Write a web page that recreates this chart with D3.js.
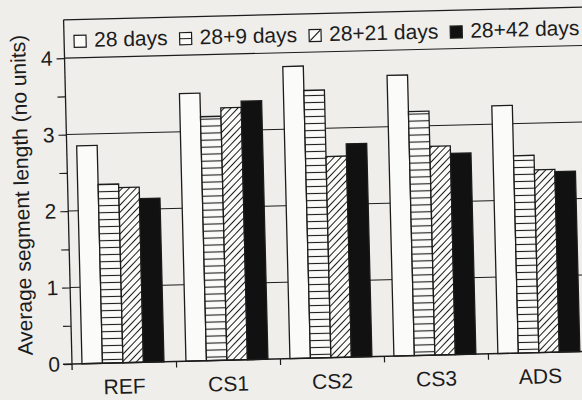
<!DOCTYPE html>
<html>
<head>
<meta charset="utf-8">
<script src="https://cdn.jsdelivr.net/npm/d3@7"></script>
<style>
  body { margin: 0; background: #efeeeb; }
  text { font-family: "Liberation Sans", Arial, Helvetica, sans-serif; fill: #1c1c1c; }
</style>
</head>
<body>
<script>
const W = 582;
const H = 400;

const categories = ['REF', 'CS1', 'CS2', 'CS3', 'ADS'];
const series = ['28 days', '28+9 days', '28+21 days', '28+42 days'];
// values
const days28 = [2.85, 3.50, 3.82, 3.67, 3.24];
const days28p9 = [2.34, 3.19, 3.50, 3.19, 2.58];
const days28p21 = [2.29, 3.30, 2.63, 2.73, 2.39];
const days28p42 = [2.14, 3.38, 2.79, 2.63, 2.36];
const yTicks = [0, 0.5, 1, 1.5, 2, 2.5, 3, 3.5, 4];
const gridValues = [1, 2, 3, 4];

const values = [days28, days28p9, days28p21, days28p42];
const fills = ['#fbfbf9', 'url(#hlines)', 'url(#hatch)', '#111'];

const ink = '#1c1c1c';
const x0 = 72, x1 = 610;   // plot runs off the right edge of the scan

const svg = d3.select('body').append('svg')
    .attr('width', W)
    .attr('height', H);

svg.append('rect').attr('width', W).attr('height', H).attr('fill', '#efeeeb');

const defs = svg.append('defs');
const hl = defs.append('pattern')
    .attr('id', 'hlines')
    .attr('patternUnits', 'userSpaceOnUse')
    .attr('width', 10).attr('height', 7);
hl.append('rect').attr('width', 10).attr('height', 7).attr('fill', '#fbfbf9');
hl.append('line').attr('x1', 0).attr('x2', 10).attr('y1', 3.5).attr('y2', 3.5)
    .attr('stroke', ink).attr('stroke-width', 1.1);

const ht = defs.append('pattern')
    .attr('id', 'hatch')
    .attr('patternUnits', 'userSpaceOnUse')
    .attr('width', 5).attr('height', 5)
    .attr('patternTransform', 'rotate(45)');
ht.append('rect').attr('width', 5).attr('height', 5).attr('fill', '#fbfbf9');
ht.append('line').attr('x1', 2.5).attr('x2', 2.5).attr('y1', 0).attr('y2', 5)
    .attr('stroke', ink).attr('stroke-width', 1);

// the scan is tilted a little, so the whole chart is turned about the origin
const chart = svg.append('g')
    .attr('transform', 'rotate(-1.4, 72, 364)');

const xScale = d3.scaleBand()
    .domain(categories)
    .range([72, 592]);

const subScale = d3.scaleBand()
    .domain(series)
    .range([10, 92]);

const yScale = d3.scaleLinear()
    .domain([0, 4.5])
    .range([364, 19.75]);

const edgeScale = d3.scaleLinear()
    .domain([0, categories.length])
    .range(xScale.range());

// grid + frame
chart.selectAll('line.grid')
    .data(gridValues)
    .join('line')
    .attr('class', 'grid')
    .attr('x1', x0).attr('x2', x1)
    .attr('y1', d => yScale(d)).attr('y2', d => yScale(d))
    .attr('stroke', ink).attr('stroke-width', 1.1);

chart.append('line')
    .attr('x1', x0).attr('x2', x1)
    .attr('y1', yScale(4.5)).attr('y2', yScale(4.5))
    .attr('stroke', ink).attr('stroke-width', 1.3);

// bars
const groups = chart.selectAll('g.grp')
    .data(categories)
    .join('g')
    .attr('class', 'grp')
    .attr('transform', d => `translate(${xScale(d)},0)`);

groups.selectAll('rect')
    .data((c, i) => series.map((s, j) => ({ s: s, v: values[j][i], j: j })))
    .join('rect')
    .attr('x', d => subScale(d.s))
    .attr('y', d => yScale(d.v))
    .attr('width', subScale.bandwidth())
    .attr('height', d => yScale(0) - yScale(d.v))
    .attr('fill', d => fills[d.j])
    .attr('stroke', ink)
    .attr('stroke-width', 1.3);

// y axis
const yAxis = chart.append('g')
    .attr('transform', `translate(${x0},0)`)
    .call(d3.axisLeft(yScale)
        .tickValues(yTicks)
        .tickSize(8)
        .tickPadding(4)
        .tickFormat(d => Number.isInteger(d) ? d : ''));
yAxis.select('.domain').remove();
yAxis.selectAll('line').attr('stroke', ink).attr('stroke-width', 1.2);
yAxis.selectAll('text').attr('font-size', 21).attr('fill', ink)
    .style('font-family', '"Liberation Sans", Arial, sans-serif');

chart.append('line')
    .attr('x1', x0).attr('x2', x0)
    .attr('y1', yScale(4.5)).attr('y2', yScale(0) + 6)
    .attr('stroke', ink).attr('stroke-width', 1.3);

// x axis: ticks at group edges, labels under the groups
const xTicks = chart.append('g')
    .attr('transform', `translate(0,${yScale(0)})`)
    .call(d3.axisBottom(edgeScale)
        .tickValues(d3.range(1, categories.length + 1))
        .tickSize(6)
        .tickFormat(''));
xTicks.select('.domain').remove();
xTicks.selectAll('line').attr('stroke', ink).attr('stroke-width', 1.2);

chart.append('line')
    .attr('x1', x0 - 9).attr('x2', x1)
    .attr('y1', yScale(0)).attr('y2', yScale(0))
    .attr('stroke', ink).attr('stroke-width', 1.4);

const xAxis = chart.append('g')
    .attr('transform', `translate(0,${yScale(0)})`)
    .call(d3.axisBottom(xScale).tickSize(0).tickPadding(16));
xAxis.select('.domain').remove();
xAxis.selectAll('text').attr('font-size', 21).attr('fill', ink)
    .style('font-family', '"Liberation Sans", Arial, sans-serif');

// y label
chart.append('text')
    .attr('transform', 'translate(33,194) rotate(-90)')
    .attr('text-anchor', 'middle')
    .attr('font-size', 21)
    .text('Average segment length (no units)');

// legend, in the band above 4
const legend = chart.append('g');
const legBase = 47.5;
let lx = 82;
series.forEach((s, j) => {
    const sym = legend.append('g').attr('transform', `translate(${lx},${legBase - 12})`);
    sym.append('rect')
        .attr('width', 12).attr('height', 12)
        .attr('fill', j === 3 ? '#111' : '#fbfbf9')
        .attr('stroke', ink).attr('stroke-width', 1.2);
    if (j === 1) {
        sym.append('line').attr('x1', 0).attr('x2', 12).attr('y1', 6).attr('y2', 6)
            .attr('stroke', ink).attr('stroke-width', 1.2);
    }
    if (j === 2) {
        sym.append('line').attr('x1', 1).attr('x2', 11).attr('y1', 11).attr('y2', 1)
            .attr('stroke', ink).attr('stroke-width', 1.2);
    }
    const t = legend.append('text')
        .attr('x', lx + 20)
        .attr('y', legBase)
        .attr('font-size', 21)
        .text(s);
    lx = lx + 20 + t.node().getComputedTextLength() + 12;
});
</script>
</body>
</html>
